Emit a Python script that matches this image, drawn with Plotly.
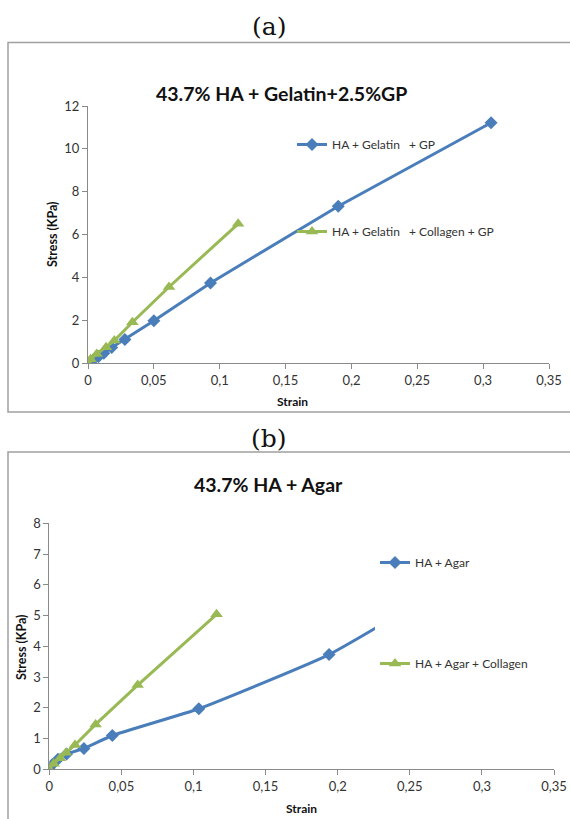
import plotly.graph_objects as go

W, H = 570, 819

# ---------- data ----------
# (a) 43.7% HA + Gelatin + 2.5% GP
a_blue_strain = [0, 0.004, 0.008, 0.012, 0.018, 0.028, 0.050, 0.093, 0.190, 0.306]
a_blue_stress = [0, 0.15, 0.30, 0.45, 0.72, 1.10, 1.97, 3.74, 7.32, 11.22]
a_green_strain = [0, 0.002, 0.0066, 0.0137, 0.020, 0.0337, 0.0615, 0.114]
a_green_stress = [0, 0.18, 0.42, 0.74, 1.05, 1.90, 3.55, 6.50]

# (b) 43.7% HA + Agar
b_blue_strain = [0, 0.002, 0.006, 0.012, 0.024, 0.0437, 0.1037, 0.194, 0.300]
b_blue_stress = [0, 0.15, 0.33, 0.50, 0.68, 1.10, 1.97, 3.73, 6.65]
b_green_strain = [0, 0.003, 0.0074, 0.0116, 0.0178, 0.0321, 0.0613, 0.116]
b_green_stress = [0, 0.18, 0.36, 0.54, 0.79, 1.46, 2.74, 5.04]

a_names = ["HA + Gelatin   + GP", "HA + Gelatin   + Collagen + GP"]
b_names = ["HA + Agar", "HA + Agar + Collagen"]

x_ticks = [0, 0.05, 0.1, 0.15, 0.2, 0.25, 0.3, 0.35]
x_tick_text = ["0", "0,05", "0,1", "0,15", "0,2", "0,25", "0,3", "0,35"]
a_y_ticks = [0, 2, 4, 6, 8, 10, 12]
b_y_ticks = [0, 1, 2, 3, 4, 5, 6, 7, 8]

BLUE = "#4A7EBB"
GREEN = "#98B954"
FONT = "Lato"
AXC = "#8a8a8a"
TXT = "#333333"

def px_x(p):
    return p / W

def px_y(p):
    return 1 - p / H

fig = go.Figure()

fig.add_trace(go.Scatter(x=a_blue_strain, y=a_blue_stress, name=a_names[0],
                         mode="lines+markers", xaxis="x", yaxis="y",
                         line=dict(color=BLUE, width=3),
                         marker=dict(symbol="diamond", size=10, color=BLUE),
                         legend="legend", legendgroup="a1"))
fig.add_trace(go.Scatter(x=a_green_strain, y=a_green_stress, name=a_names[1],
                         mode="lines+markers", xaxis="x", yaxis="y",
                         line=dict(color=GREEN, width=3),
                         marker=dict(symbol="triangle-up", size=11, color=GREEN),
                         legend="legend", legendgroup="a2"))
fig.add_trace(go.Scatter(x=b_blue_strain, y=b_blue_stress, name=b_names[0],
                         mode="lines+markers", xaxis="x2", yaxis="y2",
                         line=dict(color=BLUE, width=3, shape="spline", smoothing=0.4),
                         marker=dict(symbol="diamond", size=10, color=BLUE),
                         legend="legend2", legendgroup="b1"))
fig.add_trace(go.Scatter(x=b_green_strain, y=b_green_stress, name=b_names[1],
                         mode="lines+markers", xaxis="x2", yaxis="y2",
                         line=dict(color=GREEN, width=3),
                         marker=dict(symbol="triangle-up", size=11, color=GREEN),
                         legend="legend2", legendgroup="b2"))

axis_common = dict(showgrid=False, zeroline=False, showline=True, linecolor=AXC,
                   linewidth=1, ticks="outside", ticklen=5, tickcolor=AXC,
                   automargin=False,
                   tickfont=dict(family=FONT, size=13, color=TXT), fixedrange=True)

fig.update_layout(
    template="none",
    width=W, height=H,
    margin=dict(l=0, r=0, t=0, b=0, pad=0, autoexpand=False),
    paper_bgcolor="white", plot_bgcolor="white",
    showlegend=True,
    xaxis=dict(domain=[px_x(88), px_x(549)], range=[0, 0.35], anchor="y",
               tickvals=x_ticks, ticktext=x_tick_text, **axis_common),
    yaxis=dict(domain=[px_y(363), px_y(106)], range=[0, 12], anchor="x",
               tickvals=a_y_ticks, **axis_common),
    xaxis2=dict(domain=[px_x(49.3), px_x(554)], range=[0, 0.35], anchor="y2",
                tickvals=x_ticks, ticktext=x_tick_text, **axis_common),
    yaxis2=dict(domain=[px_y(769.3), px_y(523.3)], range=[0, 8], anchor="x2",
                tickvals=b_y_ticks, **axis_common),
    legend=dict(x=px_x(292), y=px_y(130), xanchor="left", yanchor="top",
                bgcolor="rgba(0,0,0,0)", borderwidth=0, tracegroupgap=68,
                font=dict(family=FONT, size=12, color=TXT)),
    legend2=dict(x=px_x(375), y=px_y(548), xanchor="left", yanchor="top",
                 bgcolor="white", borderwidth=0, tracegroupgap=82,
                 font=dict(family=FONT, size=12, color=TXT)),
)

# panel boxes
fig.add_shape(type="rect", xref="paper", yref="paper",
              x0=px_x(8), x1=px_x(580), y0=px_y(412), y1=px_y(42.5),
              line=dict(color="#a0a0a0", width=1.5), layer="below")
fig.add_shape(type="rect", xref="paper", yref="paper",
              x0=px_x(8), x1=px_x(580), y0=px_y(830), y1=px_y(452),
              line=dict(color="#a0a0a0", width=1.5), layer="below")

def ann(text, x, y, size, bold=False, family=FONT, color="#111111", angle=0):
    fig.add_annotation(text=("<b>%s</b>" % text) if bold else text,
                       x=px_x(x), y=px_y(y), xref="paper", yref="paper",
                       showarrow=False, xanchor="center", yanchor="middle",
                       textangle=angle,
                       font=dict(family=family, size=size, color=color))

ann("(a)", 269, 27, 25, family="DejaVu Serif", color="#111111")
ann("(b)", 269, 438, 25, family="DejaVu Serif", color="#111111")
ann("43.7% HA + Gelatin+2.5%GP", 281, 93, 19.5, bold=True)
ann("43.7% HA + Agar", 268, 484, 19.5, bold=True)
ann("Stress (KPa)", 52, 234, 12.5, bold=True, angle=-90)
ann("Stress (KPa)", 21, 647, 12.5, bold=True, angle=-90)
ann("Strain", 292, 401, 12, bold=True)
ann("Strain", 301, 808, 12, bold=True)

fig.write_html("out.html",
               post_script="document.body.style.margin='0';document.body.style.overflow='hidden';")
